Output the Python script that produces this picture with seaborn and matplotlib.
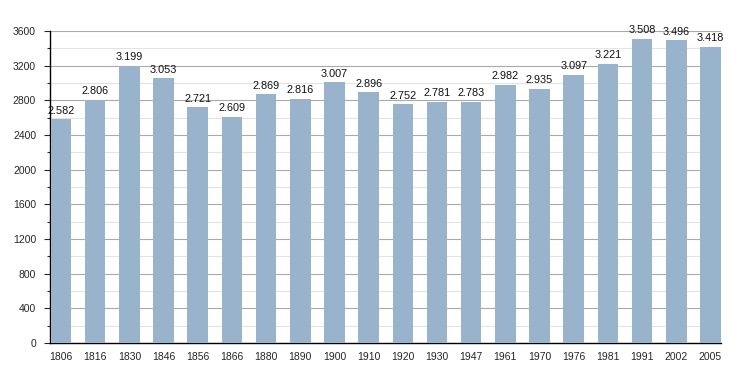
import matplotlib
matplotlib.use('Agg')
import matplotlib.pyplot as plt
import seaborn as sns
import pandas as pd
from matplotlib.ticker import MultipleLocator

years = ['1806', '1816', '1830', '1846', '1856', '1866', '1880', '1890', '1900', '1910',
         '1920', '1930', '1947', '1961', '1970', '1976', '1981', '1991', '2002', '2005']
population = [2582, 2806, 3199, 3053, 2721, 2609, 2869, 2816, 3007, 2896,
              2752, 2781, 2783, 2982, 2935, 3097, 3221, 3508, 3496, 3418]

df = pd.DataFrame({'year': years, 'population': population})

sns.set_style('white')
plt.rcParams['font.family'] = ['Liberation Sans', 'DejaVu Sans']

fig = plt.figure(figsize=(7.5, 3.73), dpi=100)
ax = fig.add_axes([0.0667, 0.0804, 0.8947, 0.8366])

sns.barplot(data=df, x='year', y='population', color='#9ab3cd', saturation=1,
            width=0.6, linewidth=0, edgecolor='none', ax=ax, zorder=3)

# bar value labels with dot as thousands separator
for i, v in enumerate(population):
    ax.text(i, v + 40, f'{v:,}'.replace(',', '.'), ha='center', va='bottom',
            fontsize=7.8, color='#111111', zorder=4)

ax.set_ylim(0, 3600)
ax.set_xlim(-0.32, len(years) - 0.69)
ax.yaxis.set_major_locator(MultipleLocator(400))
ax.yaxis.set_minor_locator(MultipleLocator(200))
ax.grid(axis='y', which='major', color='#aaaaaa', linewidth=0.8, zorder=0)
ax.grid(axis='y', which='minor', color='#e3e3e3', linewidth=0.8, zorder=0)
ax.set_axisbelow(True)

for s in ['top', 'right']:
    ax.spines[s].set_visible(False)
ax.spines['left'].set_color('black')
ax.spines['bottom'].set_color('black')
ax.spines['left'].set_linewidth(1)
ax.spines['bottom'].set_linewidth(1)

ax.tick_params(axis='y', which='major', left=True, length=4, width=0.8, labelsize=7.5, pad=6)
ax.tick_params(axis='y', which='minor', left=True, length=2, width=0.8)
ax.tick_params(axis='x', bottom=False, labelsize=7.5, pad=3)
ax.set_xlabel('')
ax.set_ylabel('')

fig.savefig('out.png', dpi=100)
